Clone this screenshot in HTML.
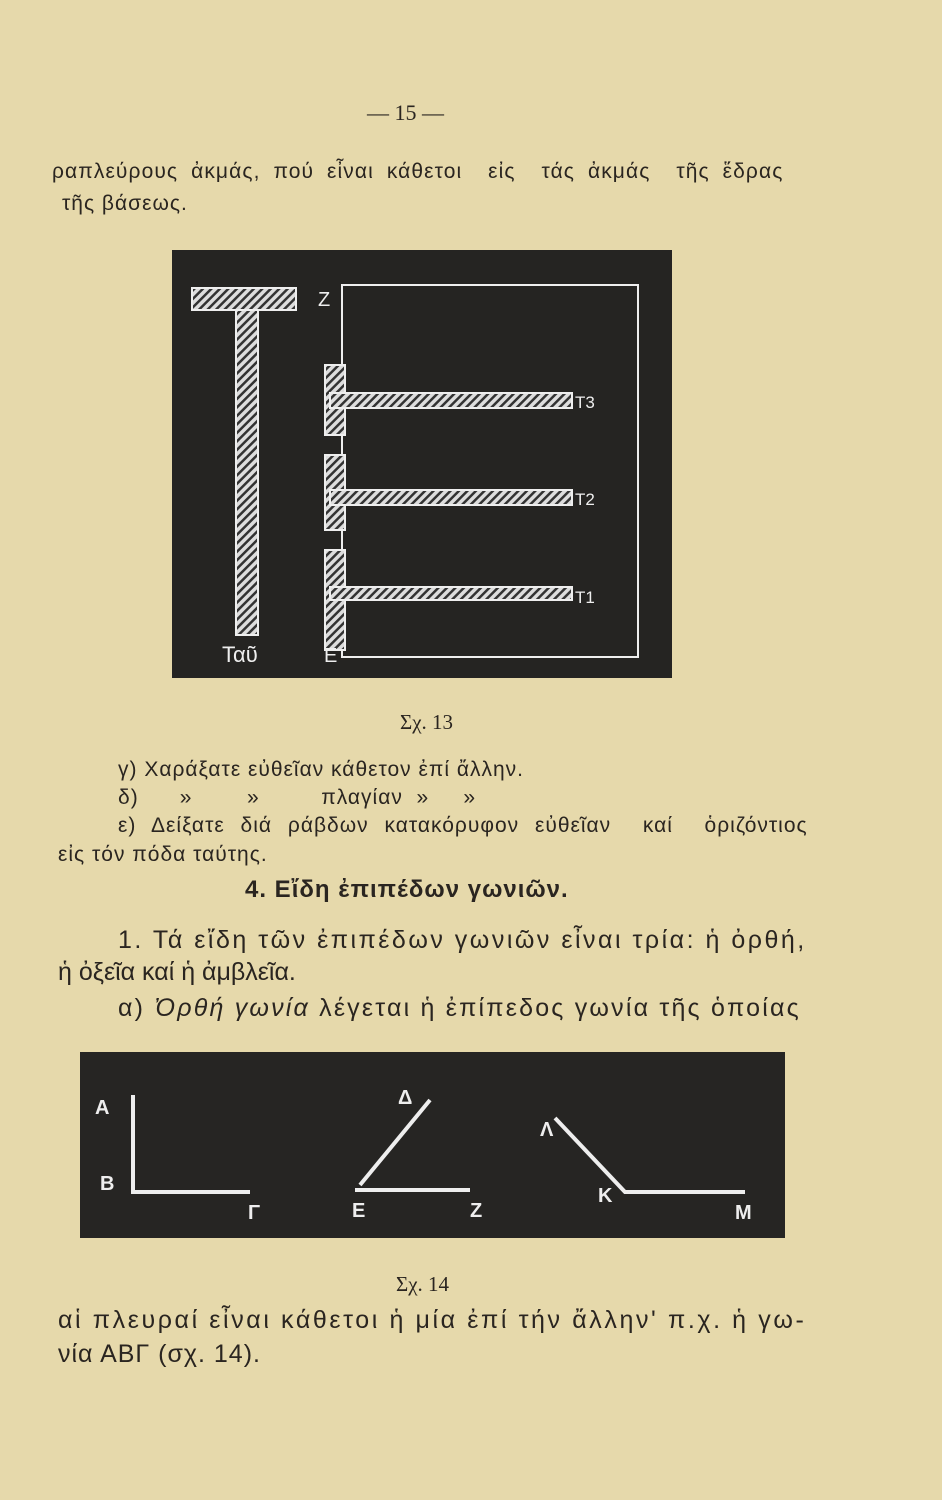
<!DOCTYPE html>
<html><head><meta charset="utf-8"><style>
html,body{margin:0;padding:0}
body{width:942px;height:1500px;background:#e6d9ab;position:relative;overflow:hidden;font-family:"Liberation Sans","DejaVu Sans",sans-serif;color:#2a2520}
.t{position:absolute;white-space:nowrap}
.s{font-size:21px;letter-spacing:1px}
.b{font-size:25px}
</style></head><body>
<div class="t" style="left:367px;top:100px;font-size:22px;font-family:'Liberation Serif',serif">— 15 —</div>
<div class="t s" style="left:52px;top:160px;word-spacing:6px;letter-spacing:1.1px">ραπλεύρους ἀκμάς, πού εἶναι κάθετοι &nbsp;εἰς &nbsp;τάς ἀκμάς &nbsp;τῆς ἕδρας</div>
<div class="t s" style="left:62px;top:192px">τῆς βάσεως.</div>

<svg style="position:absolute;left:172px;top:250px" width="500" height="428" viewBox="0 0 500 428">
<defs><pattern id="h" width="6" height="6" patternUnits="userSpaceOnUse" patternTransform="rotate(45)"><rect width="6" height="6" fill="#ddd"/><rect width="2.5" height="6" fill="#333"/></pattern></defs>
<rect width="500" height="428" fill="#252422"/>
<rect x="20" y="38" width="104" height="22" fill="url(#h)" stroke="#eee" stroke-width="2"/>
<rect x="64" y="60" width="22" height="325" fill="url(#h)" stroke="#eee" stroke-width="2"/>
<rect x="170" y="35" width="296" height="372" fill="none" stroke="#eee" stroke-width="2"/>
<rect x="153" y="115" width="20" height="70" fill="url(#h)" stroke="#eee" stroke-width="2"/>
<rect x="153" y="205" width="20" height="75" fill="url(#h)" stroke="#eee" stroke-width="2"/>
<rect x="153" y="300" width="20" height="100" fill="url(#h)" stroke="#eee" stroke-width="2"/>
<rect x="158" y="143" width="242" height="15" fill="url(#h)" stroke="#eee" stroke-width="2"/>
<rect x="158" y="240" width="242" height="15" fill="url(#h)" stroke="#eee" stroke-width="2"/>
<rect x="158" y="337" width="242" height="13" fill="url(#h)" stroke="#eee" stroke-width="2"/>
<g fill="#eee" font-family="Liberation Sans,sans-serif" font-size="20">
<text x="146" y="56">Z</text><text x="152" y="412">E</text>
<text x="50" y="412" font-size="22">Ταῦ</text>
<text x="403" y="158" font-size="17">T3</text><text x="403" y="255" font-size="17">T2</text><text x="403" y="353" font-size="17">T1</text>
</g></svg>

<div class="t" style="left:400px;top:710px;font-size:21px;font-family:'Liberation Serif',serif">Σχ. 13</div>
<div class="t s" style="left:118px;top:758px">γ) Χαράξατε εὐθεῖαν κάθετον ἐπί ἄλλην.</div>
<div class="t s" style="left:118px;top:786px">δ) &nbsp;&nbsp;&nbsp;&nbsp;&nbsp;» &nbsp;&nbsp;&nbsp;&nbsp;&nbsp;&nbsp;&nbsp;» &nbsp;&nbsp;&nbsp;&nbsp;&nbsp;&nbsp;&nbsp;&nbsp;πλαγίαν &nbsp;» &nbsp;&nbsp;&nbsp;&nbsp;»</div>
<div class="t s" style="left:118px;top:814px;word-spacing:9px">ε) Δείξατε διά ράβδων κατακόρυφον εὐθεῖαν &nbsp;καί &nbsp;ὁριζόντιος</div>
<div class="t s" style="left:58px;top:843px">εἰς τόν πόδα ταύτης.</div>
<div class="t" style="left:245px;top:876px;font-size:24px;font-weight:bold;letter-spacing:1px">4. Εἴδη ἐπιπέδων γωνιῶν.</div>
<div class="t b" style="left:118px;top:926px;letter-spacing:2.5px">1. Τά εἴδη τῶν ἐπιπέδων γωνιῶν εἶναι τρία: ἡ ὀρθή,</div>
<div class="t b" style="left:58px;top:958px">ἡ ὀξεῖα καί ἡ ἀμβλεῖα.</div>
<div class="t b" style="left:118px;top:994px;letter-spacing:2.2px">α) <i>Ὀρθή γωνία</i> λέγεται ἡ ἐπίπεδος γωνία τῆς ὁποίας</div>

<svg style="position:absolute;left:80px;top:1052px" width="705" height="186" viewBox="0 0 705 186">
<rect width="705" height="186" fill="#262523"/>
<g stroke="#eee" stroke-width="4" fill="none">
<path d="M53 43 V140 H170"/>
<path d="M350 48 L280 133 M275 138 H390"/>
<path d="M475 66 L545 140 H665"/>
</g>
<g fill="#eee" font-family="Liberation Sans,sans-serif" font-size="20" font-weight="bold">
<text x="15" y="62">A</text><text x="20" y="138">B</text><text x="168" y="167">Γ</text>
<text x="318" y="52">Δ</text><text x="272" y="165">E</text><text x="390" y="165">Z</text>
<text x="460" y="84">Λ</text><text x="518" y="150">K</text><text x="655" y="167">M</text>
</g></svg>

<div class="t" style="left:396px;top:1272px;font-size:21px;font-family:'Liberation Serif',serif">Σχ. 14</div>
<div class="t b" style="left:58px;top:1306px;letter-spacing:2.6px">αἱ πλευραί εἶναι κάθετοι ἡ μία ἐπί τήν ἄλλην' π.χ. ἡ γω-</div>
<div class="t b" style="left:58px;top:1340px;letter-spacing:1px">νία ΑΒΓ (σχ. 14).</div>
</body></html>
